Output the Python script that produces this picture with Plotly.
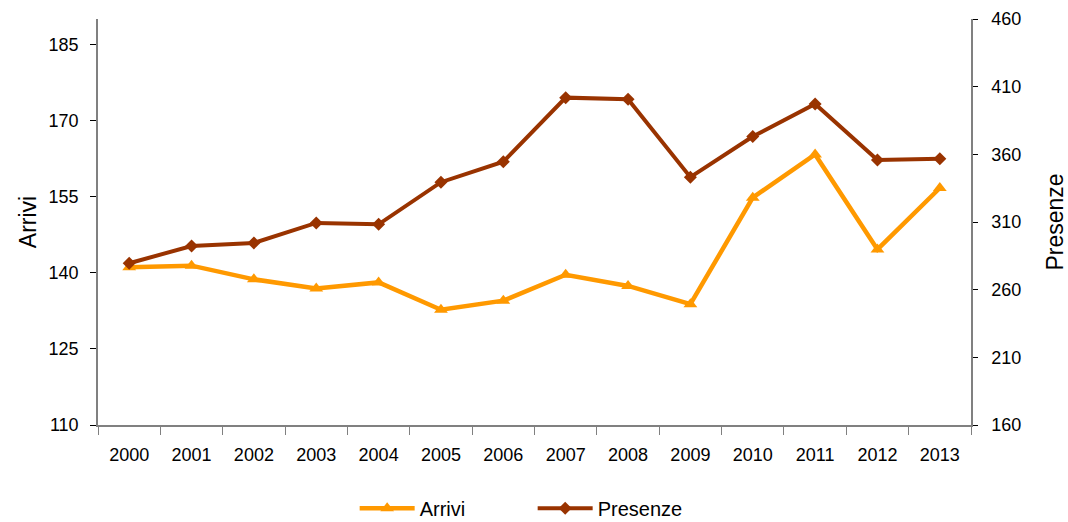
import plotly.graph_objects as go

# data
anni = ["2000", "2001", "2002", "2003", "2004", "2005", "2006",
        "2007", "2008", "2009", "2010", "2011", "2012", "2013"]
arrivi = [141.1, 141.4, 138.7, 136.9, 138.1, 132.7, 134.5,
          139.6, 137.4, 133.8, 154.8, 163.3, 144.6, 156.7]
presenze = [279.5, 292.3, 294.5, 309.3, 308.3, 339.4, 354.6,
            401.9, 400.7, 343.1, 373.1, 397.2, 355.9, 356.8]

arrivi_ticks = [110, 125, 140, 155, 170, 185]
presenze_ticks = [160, 210, 260, 310, 360, 410, 460]

FONT = "Liberation Sans, Arial, sans-serif"
AXIS_GREY = "#808080"

fig = go.Figure()

fig.add_trace(go.Scatter(
    x=anni, y=arrivi,
    mode="lines+markers",
    name="Arrivi",
    line=dict(color="#FF9900", width=4.5),
    marker=dict(symbol="triangle-up", size=12, color="#FF9900"),
))

fig.add_trace(go.Scatter(
    x=anni, y=presenze,
    mode="lines+markers",
    name="Presenze",
    yaxis="y2",
    line=dict(color="#993300", width=4),
    marker=dict(symbol="diamond", size=10, color="#993300"),
))

fig.update_layout(
    width=1068,
    height=522,
    margin=dict(l=98, r=97, t=19, b=97, autoexpand=False),
    plot_bgcolor="white",
    paper_bgcolor="white",
    font=dict(family=FONT, size=18, color="black"),
    showlegend=True,
    legend=dict(
        orientation="h",
        x=0.294, xanchor="left",
        y=-0.205, yanchor="middle",
        font=dict(size=20),
        entrywidth=108,
        itemwidth=55,
    ),
    xaxis=dict(
        type="category",
        range=[-0.5, 13.5],
        tickson="boundaries",
        ticks="outside",
        ticklen=8,
        tickcolor=AXIS_GREY,
        showline=True,
        linecolor=AXIS_GREY,
        linewidth=1.5,
        showgrid=False,
        zeroline=False,
        automargin=False,
        ticklabelstandoff=13,
    ),
    yaxis=dict(
        title=dict(text="Arrivi", font=dict(size=23), standoff=6),
        range=[110, 190],
        tickvals=arrivi_ticks,
        ticks="outside",
        ticklen=6,
        tickcolor="black",
        ticklabelstandoff=8,
        showline=True,
        linecolor=AXIS_GREY,
        linewidth=1.5,
        showgrid=False,
        zeroline=False,
        automargin=False,
    ),
    yaxis2=dict(
        title=dict(text="Presenze", font=dict(size=23), standoff=31),
        range=[160, 460],
        tickvals=presenze_ticks,
        overlaying="y",
        side="right",
        ticks="outside",
        ticklen=5,
        tickcolor="black",
        ticklabelstandoff=10,
        showline=True,
        linecolor=AXIS_GREY,
        linewidth=1.5,
        showgrid=False,
        zeroline=False,
        automargin=False,
    ),
    # inner halves of the crossing tick marks
    yaxis3=dict(
        range=[110, 190],
        tickvals=arrivi_ticks,
        overlaying="y",
        side="left",
        ticks="inside",
        ticklen=6,
        tickcolor="black",
        showticklabels=False,
        showline=False,
        showgrid=False,
        zeroline=False,
        automargin=False,
    ),
    yaxis4=dict(
        range=[160, 460],
        tickvals=presenze_ticks,
        overlaying="y",
        side="right",
        ticks="inside",
        ticklen=5,
        tickcolor="black",
        showticklabels=False,
        showline=False,
        showgrid=False,
        zeroline=False,
        automargin=False,
    ),
)

# drop the page's default body margin so the figure fills the window
fig.write_html(
    "out.html",
    config={"displayModeBar": False},
    post_script="document.body.style.margin='0';",
)
